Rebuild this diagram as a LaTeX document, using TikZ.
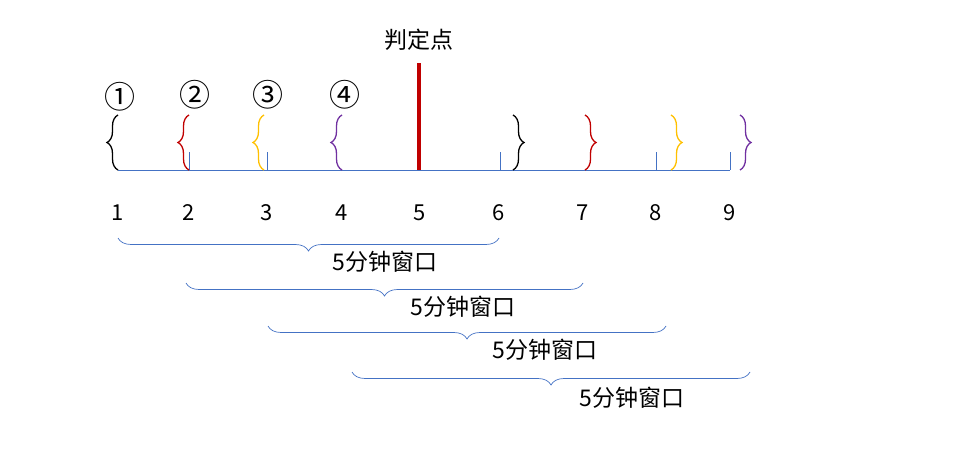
\documentclass[tikz,border=0pt]{standalone}
\usepackage{fontspec}
\setmainfont{Noto Sans CJK SC}
\usetikzlibrary{decorations.pathreplacing}
\definecolor{cblue}{HTML}{4472C4}
\definecolor{cred}{HTML}{C00000}
\definecolor{cyel}{HTML}{FFC000}
\definecolor{cpur}{HTML}{7030A0}
\begin{document}
\begin{tikzpicture}[x=1pt,y=1pt,
  vb/.style={decorate,decoration={brace,amplitude=11pt},line width=1.3pt},
  hb/.style={cblue,decorate,decoration={brace,amplitude=13pt},line width=0.7pt},
  num/.style={font=\fontsize{22}{22}\selectfont,inner sep=0pt},
  win/.style={font=\fontsize{23}{23}\selectfont,inner sep=0pt},
  circ/.style={font=\fontsize{31}{31}\selectfont,inner sep=0pt}]
\useasboundingbox (0,0) rectangle (958,461);
% axis
\coordinate (a0) at (118,291); \coordinate (a1) at (730,291);
\draw[cblue,line width=0.8pt] (a0) -- (a1);
\foreach \x in {189,267,500,656,730} \draw[cblue,line width=0.7pt] (\x,291) -- (\x,309);
% decision line
\coordinate (r0) at (419,291); \coordinate (r1) at (419,398);
\draw[cred,line width=3.5pt] (r0) -- (r1);
\node[win] (jd) at (419,421) {判定点};
% left braces
\draw[vb,black] (118,291) -- (118,346);
\draw[vb,cred] (189,291) -- (189,346);
\draw[vb,cyel] (264,291) -- (264,346);
\draw[vb,cpur] (342,291) -- (342,346);
% right braces
\draw[vb,black] (513,346) -- (513,291);
\draw[vb,cred] (585,346) -- (585,291);
\draw[vb,cyel] (671,346) -- (671,291);
\draw[vb,cpur] (740,346) -- (740,291);
% circled
\node[circ] (c1) at (120,364) {①};
\node[circ] (c2) at (195,366) {②};
\node[circ] (c3) at (268,366) {③};
\node[circ] (c4) at (345,366) {④};
% numbers
\foreach \x/\n in {118/1,189/2,267/3,342/4,420/5,499/6,583/7,656/8,730/9}
  \node[num] (n\n) at (\x,248) {\n};
% windows
\draw[hb] (499,223) -- (118,223); \node[win] (w1) at (385,199) {5分钟窗口};
\draw[hb] (583,178) -- (186,178); \node[win] (w2) at (463,154) {5分钟窗口};
\draw[hb] (666,135) -- (268,135); \node[win] (w3) at (545,111) {5分钟窗口};
\draw[hb] (750,89) -- (352,89); \node[win] (w4) at (632,63) {5分钟窗口};
\end{tikzpicture}
\end{document}
